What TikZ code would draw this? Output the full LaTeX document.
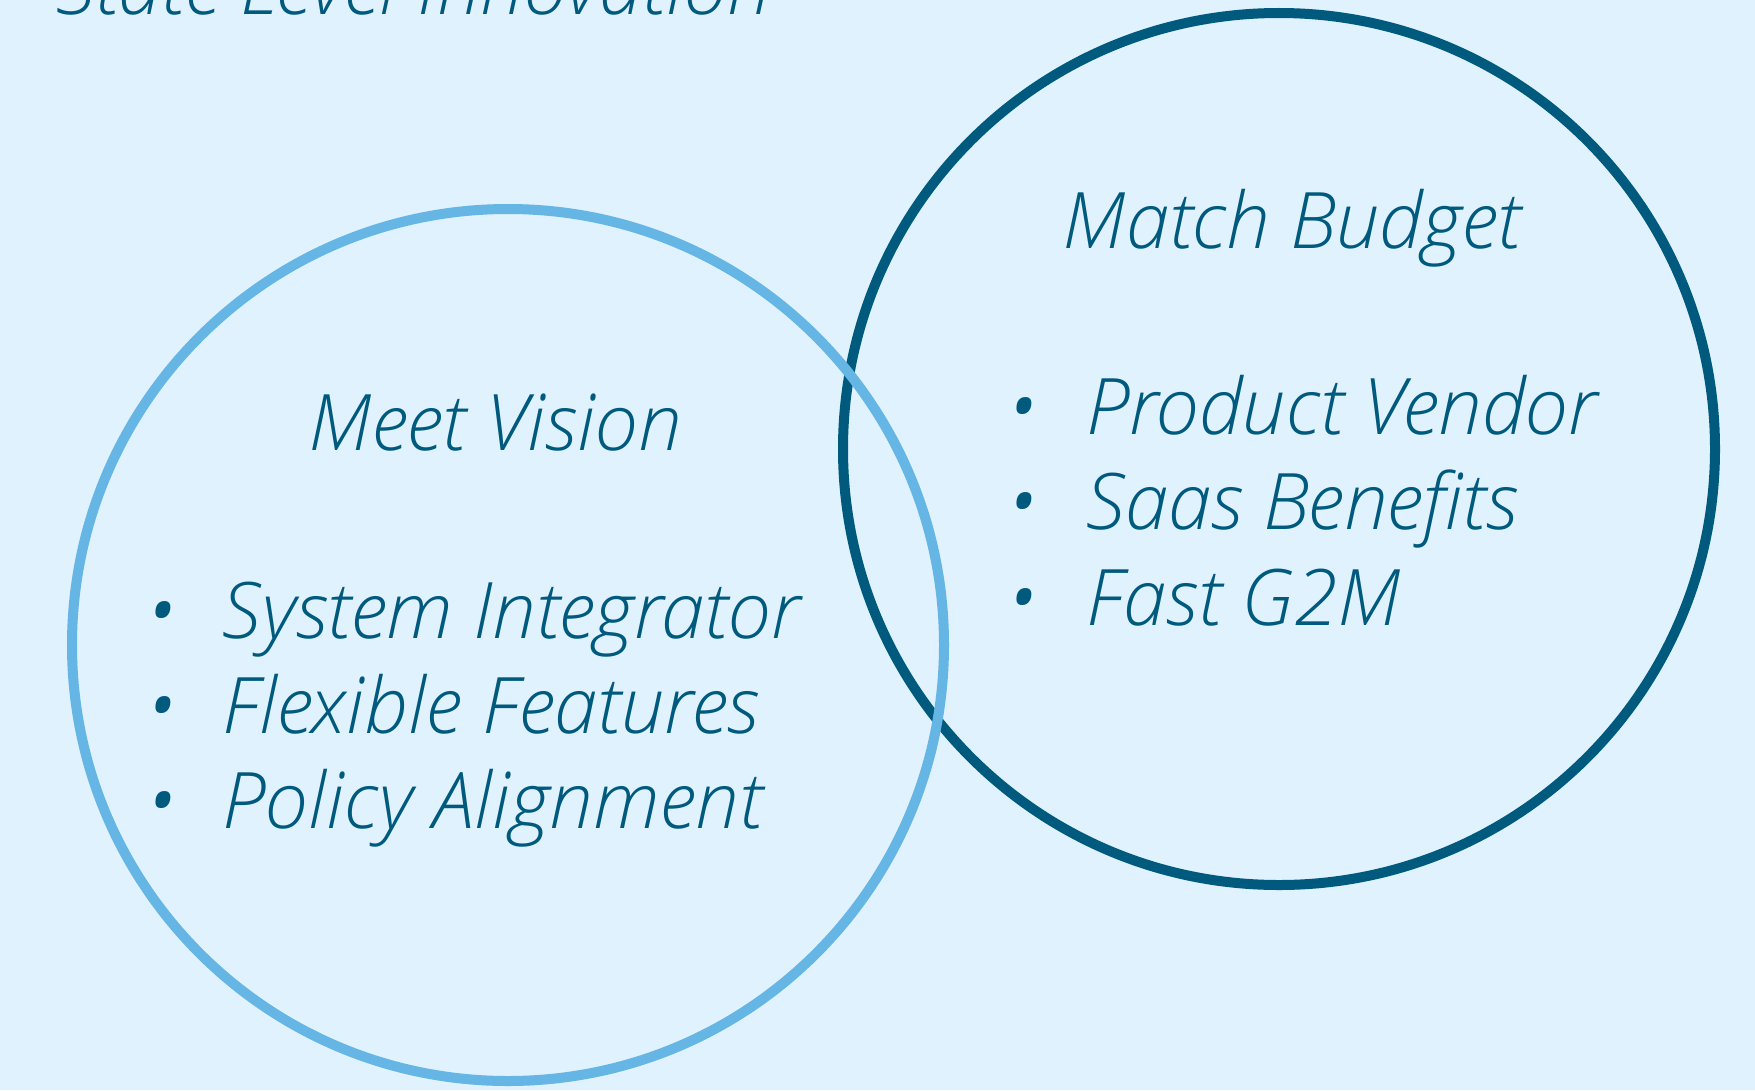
\documentclass[tikz,border=0pt]{standalone}
\usepackage{fontspec}
\setmainfont{Open Sans}[UprightFont={* Light}, ItalicFont={* Light Italic}]
\definecolor{bgc}{HTML}{DFF2FD}
\definecolor{lightc}{HTML}{65B5E5}
\definecolor{darkc}{HTML}{005A7D}
\tikzset{
  ring/.style={circle, draw, line width=10bp, minimum size=872bp, inner sep=0pt},
  txt/.style={font=\fontsize{78bp}{94bp}\selectfont\itshape, text=darkc, inner sep=0pt},
  bul/.style={txt, anchor=base},
  item/.style={txt, anchor=base west},
  head/.style={txt, anchor=base},
}
\begin{document}
\begin{tikzpicture}[x=1bp,y=-1bp]
\fill[bgc] (0,0) rectangle (1755,1090);
\useasboundingbox (0,0) rectangle (1755,1090);
\node[ring, draw=darkc] (right) at (1279,449) {};
\node[ring, draw=lightc] (left) at (508,645) {};
\node[item] (title) at (56,14) {State Level Innovation};
\node[head] (mv) at (495,450) {Meet Vision};
\node[bul] (lb1) at (162,638) {\textbullet};
\node[bul] (lb2) at (162,733) {\textbullet};
\node[bul] (lb3) at (162,828) {\textbullet};
\node[item] (l1) at (222,638) {System Integrator};
\node[item] (l2) at (222,733) {Flexible Features};
\node[item] (l3) at (222,828) {Policy Alignment};
\node[head] (mb) at (1292,248) {Match Budget};
\node[bul] (rb1) at (1023,434) {\textbullet};
\node[bul] (rb2) at (1023,529) {\textbullet};
\node[bul] (rb3) at (1023,625) {\textbullet};
\node[item] (r1) at (1086,434) {Product Vendor};
\node[item] (r2) at (1086,529) {Saas Benefits};
\node[item] (r3) at (1086,625) {Fast G2M};
\end{tikzpicture}
\end{document}
